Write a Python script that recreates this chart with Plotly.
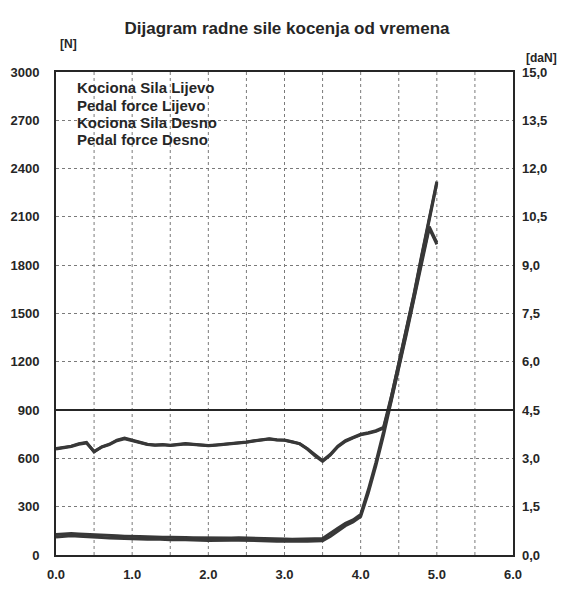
"""
Dijagram radne sile kocenja od vremena - brake force / pedal force vs time.
Greyscale look of the scanned test report.
"""

import plotly.graph_objects as go

# time axis [s]
time_s = [0.0, 0.1, 0.2, 0.3, 0.4, 0.5, 0.6, 0.7, 0.8, 0.9,
          1.0, 1.1, 1.2, 1.3, 1.4, 1.5, 1.6, 1.7, 1.8, 1.9,
          2.0, 2.1, 2.2, 2.3, 2.4, 2.5, 2.6, 2.7, 2.8, 2.9,
          3.0, 3.1, 3.2, 3.3, 3.4, 3.5, 3.6, 3.7, 3.8, 3.9,
          4.0, 4.1, 4.2, 4.3, 4.4, 4.5, 4.6, 4.7, 4.8, 4.9, 5.0]

# brake force [N]
brake_left = [128, 131, 133, 130, 127, 124, 123, 121, 119, 117,
              118, 115, 113, 114, 111, 110, 111, 108, 107, 106,
              105, 104, 104, 106, 107, 105, 104, 103, 101, 100,
              99, 98, 98, 100, 101, 103, 132, 166, 196, 218,
              252, 405, 575, 765, 975, 1185, 1395, 1615, 1850, 2080, 2310]
brake_right = [112, 116, 119, 117, 113, 110, 108, 106, 104, 102,
               103, 100, 98, 99, 96, 95, 96, 93, 92, 91,
               90, 89, 90, 91, 92, 90, 89, 88, 87, 86,
               85, 84, 84, 86, 87, 89, 115, 150, 182, 205,
               238, 385, 555, 745, 950, 1160, 1370, 1590, 1815, 2030, 1930]

# pedal force [daN]
pedal_left = [3.31, 3.34, 3.38, 3.46, 3.50, 3.20, 3.36, 3.44, 3.57, 3.63,
              3.56, 3.49, 3.44, 3.42, 3.43, 3.41, 3.43, 3.46, 3.44, 3.42,
              3.40, 3.42, 3.44, 3.45, 3.47, 3.51, 3.55, 3.59, 3.61, 3.58,
              3.57, 3.52, 3.46, 3.30, 3.10, 2.93, 3.12, 3.38, 3.55, 3.66,
              3.75, 3.80, 3.86, 3.96, 4.90, 5.95, 7.00, 8.10, 9.30, 10.45, 11.60]
pedal_right = [3.29, 3.33, 3.37, 3.44, 3.48, 3.22, 3.35, 3.43, 3.55, 3.61,
               3.55, 3.48, 3.43, 3.41, 3.42, 3.40, 3.42, 3.45, 3.43, 3.41,
               3.39, 3.41, 3.43, 3.44, 3.46, 3.50, 3.54, 3.58, 3.60, 3.57,
               3.56, 3.51, 3.45, 3.29, 3.08, 2.91, 3.10, 3.36, 3.53, 3.64,
               3.73, 3.78, 3.84, 3.94, 4.80, 5.85, 6.90, 8.00, 9.15, 10.20, 9.70]

REF_LINE_N = 900

n_ticks = [0, 300, 600, 900, 1200, 1500, 1800, 2100, 2400, 2700, 3000]
dan_ticks = [0, 1.5, 3.0, 4.5, 6.0, 7.5, 9.0, 10.5, 12.0, 13.5, 15.0]
dan_labels = ["0,0", "1,5", "3,0", "4,5", "6,0", "7,5", "9,0", "10,5", "12,0", "13,5", "15,0"]
t_ticks = [0, 1, 2, 3, 4, 5, 6]
t_labels = ["0.0", "1.0", "2.0", "3.0", "4.0", "5.0", "6.0"]

LEGEND_NAMES = ["Kociona Sila Lijevo", "Pedal force Lijevo",
                "Kociona Sila Desno", "Pedal force Desno"]

INK = "#262626"
LINE = "#383838"
GRID = "#7a7a7a"
FONT = "Liberation Sans, Arial, sans-serif"

# page body has an 8px margin, so the figure is trimmed by that much
W, H = 558, 582


def bold(size):
    return dict(family=FONT, size=size, color=INK, weight="bold")


fig = go.Figure()

fig.add_trace(go.Scatter(x=time_s, y=brake_left, name=LEGEND_NAMES[0],
                         mode="lines", line=dict(color=LINE, width=3)))
fig.add_trace(go.Scatter(x=time_s, y=pedal_left, name=LEGEND_NAMES[1], yaxis="y2",
                         mode="lines", line=dict(color=LINE, width=3)))
fig.add_trace(go.Scatter(x=time_s, y=brake_right, name=LEGEND_NAMES[2],
                         mode="lines", line=dict(color=LINE, width=3)))
fig.add_trace(go.Scatter(x=time_s, y=pedal_right, name=LEGEND_NAMES[3], yaxis="y2",
                         mode="lines", line=dict(color=LINE, width=3)))

fig.add_hline(y=REF_LINE_N, line=dict(color=INK, width=2))

# legend printed as plain text in the upper-left corner
for i, name in enumerate(LEGEND_NAMES):
    fig.add_annotation(
        text=name, xref="paper", yref="paper",
        x=0.042, y=0.967 - i * 0.0355,
        xanchor="left", yanchor="middle", align="left", showarrow=False,
        font=bold(15),
    )
fig.add_annotation(text="[N]", xref="paper", yref="paper", x=0.005, y=1.058,
                   xanchor="left", yanchor="middle", showarrow=False, font=bold(12))
fig.add_annotation(text="[daN]", xref="paper", yref="paper", x=1.1, y=1.03,
                   xanchor="right", yanchor="middle", showarrow=False, font=bold(12))

fig.update_layout(
    title=dict(text="Dijagram radne sile kocenja od vremena",
               x=0.5, xanchor="center", y=0.966, yanchor="middle",
               font=bold(17)),
    width=W, height=H,
    margin=dict(l=48, r=53, t=64, b=35, autoexpand=False),
    paper_bgcolor="white",
    plot_bgcolor="white",
    showlegend=False,
    font=bold(13),
    xaxis=dict(range=[0, 6], tickvals=t_ticks, ticktext=t_labels,
               showgrid=False, automargin=False,
               showline=True, linecolor=INK, linewidth=2, mirror=True,
               ticks="", ticklabelstandoff=6, tickfont=bold(13)),
    yaxis=dict(range=[0, 3000], tickvals=n_ticks, automargin=False,
               showgrid=True, gridcolor=GRID, griddash="dot", gridwidth=1,
               showline=True, linecolor=INK, linewidth=2, mirror=True,
               zeroline=False, ticks="", ticklabelstandoff=12,
               tickfont=bold(13)),
    yaxis2=dict(range=[0, 15], overlaying="y", side="right", automargin=False,
                tickvals=dan_ticks, ticktext=dan_labels,
                showgrid=False, zeroline=False, ticks="", ticklabelstandoff=8,
                tickfont=bold(13)),
)

# vertical grid every 0.5 s
for i in range(1, 12):
    fig.add_vline(x=i * 0.5, line=dict(color=GRID, width=1, dash="dot"), layer="below")

fig.write_html("out.html")
